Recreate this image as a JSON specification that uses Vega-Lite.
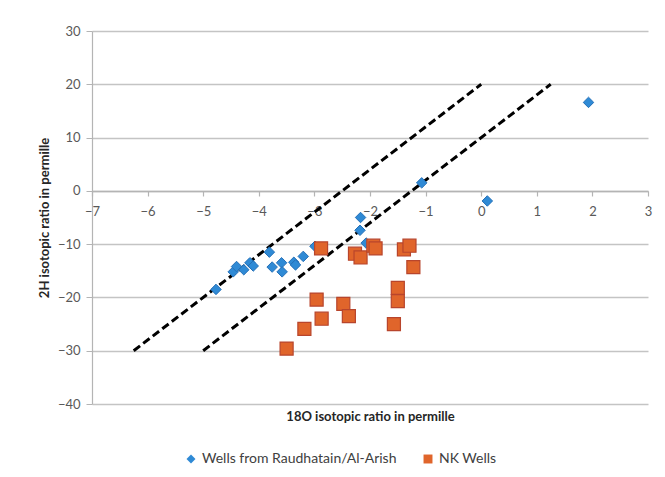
{
  "$schema": "https://vega.github.io/schema/vega-lite/v6.json",
  "width": 556,
  "height": 373,
  "autosize": "none",
  "padding": {"left": 92, "top": 31, "right": 17, "bottom": 73},
  "background": "white",
  "config": {"view": {"stroke": null}, "font": "Lato"},
  "datasets": {
    "wells": [
      {"series": "Wells from Raudhatain/Al-Arish", "x": -4.77, "y": -18.5},
      {"series": "Wells from Raudhatain/Al-Arish", "x": -4.46, "y": -15.2},
      {"series": "Wells from Raudhatain/Al-Arish", "x": -4.40, "y": -14.2},
      {"series": "Wells from Raudhatain/Al-Arish", "x": -4.27, "y": -14.8},
      {"series": "Wells from Raudhatain/Al-Arish", "x": -4.16, "y": -13.5},
      {"series": "Wells from Raudhatain/Al-Arish", "x": -4.10, "y": -14.1},
      {"series": "Wells from Raudhatain/Al-Arish", "x": -3.81, "y": -11.5},
      {"series": "Wells from Raudhatain/Al-Arish", "x": -3.76, "y": -14.3},
      {"series": "Wells from Raudhatain/Al-Arish", "x": -3.59, "y": -13.5},
      {"series": "Wells from Raudhatain/Al-Arish", "x": -3.58, "y": -15.2},
      {"series": "Wells from Raudhatain/Al-Arish", "x": -3.37, "y": -13.4},
      {"series": "Wells from Raudhatain/Al-Arish", "x": -3.34, "y": -13.9},
      {"series": "Wells from Raudhatain/Al-Arish", "x": -3.20, "y": -12.3},
      {"series": "Wells from Raudhatain/Al-Arish", "x": -2.99, "y": -10.4},
      {"series": "Wells from Raudhatain/Al-Arish", "x": -2.17, "y": -5.0},
      {"series": "Wells from Raudhatain/Al-Arish", "x": -2.18, "y": -7.4},
      {"series": "Wells from Raudhatain/Al-Arish", "x": -2.07, "y": -9.8},
      {"series": "Wells from Raudhatain/Al-Arish", "x": -1.07, "y": 1.5},
      {"series": "Wells from Raudhatain/Al-Arish", "x": 0.11, "y": -1.9},
      {"series": "Wells from Raudhatain/Al-Arish", "x": 1.93, "y": 16.6},
      {"series": "NK Wells", "x": -2.88, "y": -10.8},
      {"series": "NK Wells", "x": -2.96, "y": -20.4},
      {"series": "NK Wells", "x": -2.87, "y": -24.0},
      {"series": "NK Wells", "x": -3.18, "y": -25.9},
      {"series": "NK Wells", "x": -3.50, "y": -29.6},
      {"series": "NK Wells", "x": -2.48, "y": -21.2},
      {"series": "NK Wells", "x": -2.38, "y": -23.5},
      {"series": "NK Wells", "x": -2.27, "y": -11.8},
      {"series": "NK Wells", "x": -2.17, "y": -12.5},
      {"series": "NK Wells", "x": -1.94, "y": -10.3},
      {"series": "NK Wells", "x": -1.90, "y": -10.8},
      {"series": "NK Wells", "x": -1.57, "y": -25.0},
      {"series": "NK Wells", "x": -1.50, "y": -18.2},
      {"series": "NK Wells", "x": -1.50, "y": -20.7},
      {"series": "NK Wells", "x": -1.39, "y": -11.0},
      {"series": "NK Wells", "x": -1.29, "y": -10.3},
      {"series": "NK Wells", "x": -1.22, "y": -14.3}
    ],
    "lines": [
      {"line": "a", "x": -6.25, "y": -30},
      {"line": "a", "x": 0, "y": 20},
      {"line": "b", "x": -5, "y": -30},
      {"line": "b", "x": 1.25, "y": 20}
    ]
  },
  "encoding": {
    "x": {
      "field": "x", "type": "quantitative",
      "scale": {"domain": [-7, 3], "nice": false, "zero": false},
      "axis": {
        "title": "18O isotopic ratio in permille",
        "values": [-7, -6, -5, -4, -3, -2, -1, 0, 1, 2, 3],
        "grid": false,
        "offset": -213,
        "labelFlush": false,
        "domainColor": "#b4b4b4", "domainWidth": 1.5,
        "tickColor": "#b4b4b4", "tickSize": 5, "tickWidth": 1.2,
        "labelPadding": 9, "labelFontSize": 13, "labelColor": "#595959",
        "titleY": 219, "titleFontWeight": "bold", "titleFontSize": 13, "titleColor": "#262626"
      }
    },
    "y": {
      "field": "y", "type": "quantitative",
      "scale": {"domain": [-40, 30], "nice": false, "zero": false},
      "axis": {
        "title": "2H isotopic ratio in permille",
        "values": [-40, -30, -20, -10, 0, 10, 20, 30],
        "grid": true, "gridColor": "#c4c4c4", "gridWidth": 1.5,
        "domainColor": "#b4b4b4", "domainWidth": 1.2,
        "tickColor": "#b4b4b4", "tickSize": 6,
        "labelPadding": 6, "labelFontSize": 13, "labelColor": "#595959",
        "titlePadding": 6, "titleFontWeight": "bold", "titleFontSize": 13, "titleColor": "#262626"
      }
    }
  },
  "layer": [
    {
      "data": {"name": "lines"},
      "mark": {"type": "line", "color": "black", "strokeWidth": 3, "strokeDash": [8, 4]},
      "encoding": {"detail": {"field": "line"}}
    },
    {
      "data": {"name": "wells"},
      "transform": [{"filter": "datum.series === 'Wells from Raudhatain/Al-Arish'"}],
      "mark": {"type": "point", "filled": true, "size": 110, "opacity": 1, "stroke": "#2470b8", "strokeWidth": 1},
      "encoding": {
        "color": {"field": "series", "type": "nominal",
          "scale": {"domain": ["Wells from Raudhatain/Al-Arish", "NK Wells"], "range": ["#2f8ad5", "#e0652b"]},
          "legend": {"orient": "none", "legendX": 92, "legendY": 421, "direction": "horizontal", "title": null,
            "labelFontSize": 14, "labelColor": "#404040", "labelLimit": 400, "symbolSize": 80, "symbolStrokeWidth": 0, "columnPadding": 24, "labelOffset": 4}},
        "shape": {"field": "series", "type": "nominal",
          "scale": {"domain": ["Wells from Raudhatain/Al-Arish", "NK Wells"], "range": ["diamond", "square"]}}
      }
    },
    {
      "data": {"name": "wells"},
      "transform": [{"filter": "datum.series === 'NK Wells'"}],
      "mark": {"type": "point", "filled": true, "size": 170, "opacity": 1, "stroke": "#b8452c", "strokeWidth": 1.2},
      "encoding": {
        "color": {"field": "series", "type": "nominal"},
        "shape": {"field": "series", "type": "nominal"}
      }
    }
  ]
}
